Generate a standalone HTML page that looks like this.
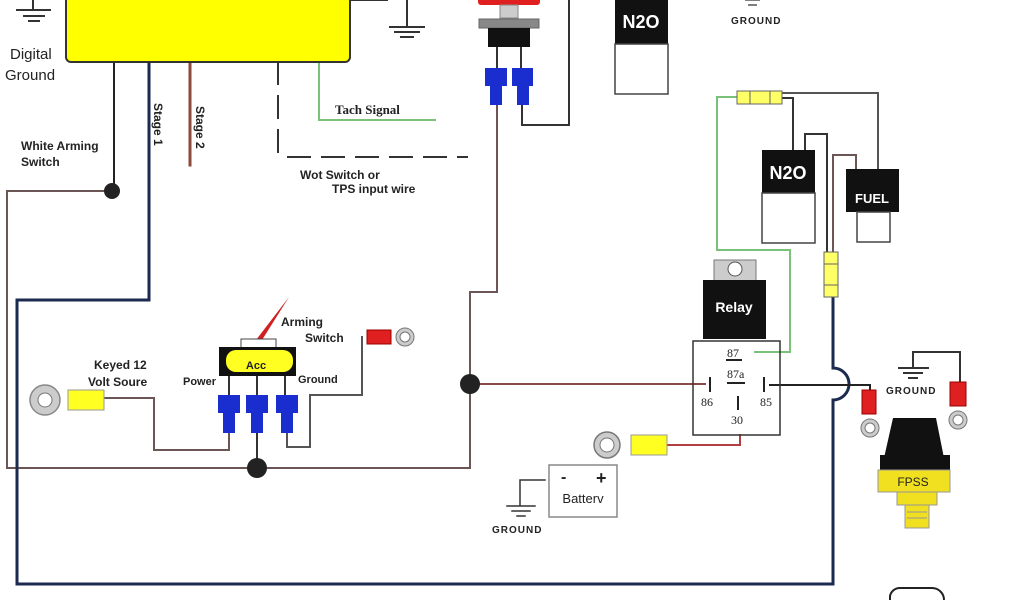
<!DOCTYPE html>
<html><head><meta charset="utf-8"><style>
html,body{margin:0;padding:0;background:#fff;width:1024px;height:600px;overflow:hidden}
svg{display:block}
text{font-family:"Liberation Sans",sans-serif;font-weight:bold;fill:#222}
</style></head><body>
<svg width="1024" height="600" viewBox="0 0 1024 600" xmlns="http://www.w3.org/2000/svg">
<g fill="none" stroke-linecap="square">
<!-- top-left ground -->
<g stroke="#333" stroke-width="2"><path d="M33 0V10M17 10H50M24 16H44M29 21H39"/></g>
<!-- ground right of box -->
<g stroke="#333" stroke-width="2"><path d="M350 0H387M407 0V27M390 27H424M395 32H419M401 37H413"/></g>
<!-- white arming wire -->
<path d="M114 62V191M112 191H7V468H470V292H497V105" stroke="#6b5555" stroke-width="2"/>
<path d="M114 62V191" stroke="#222" stroke-width="2"/>
<!-- navy loop -->
<path d="M149 62V300H17V584H833V400M833 368V297" stroke="#1c2a50" stroke-width="3"/>
<path d="M833 368A16 16 0 0 1 833 400" stroke="#1c2a50" stroke-width="3"/>
<!-- stage 2 -->
<path d="M190 62V165" stroke="#8b4a3a" stroke-width="3"/>
<!-- dashed -->
<path d="M278 62V155M288 157H467" stroke="#333" stroke-width="2" stroke-dasharray="22,12"/>
<!-- tach -->
<path d="M319 62V120H435" stroke="#7ac27a" stroke-width="2"/>
<!-- button wires -->
<path d="M497 47V70M521 47V70" stroke="#333" stroke-width="2"/>
<path d="M522 105V125H569V0" stroke="#333" stroke-width="2"/>
<!-- keyed wire -->
<path d="M104 398H154V450H229V430" stroke="#6b5555" stroke-width="2"/>
<path d="M257 430V468" stroke="#333" stroke-width="2"/>
<path d="M287 430V447H310V395H362V337" stroke="#555" stroke-width="2"/>
<path d="M229 376V397M257 376V397M285 376V397" stroke="#333" stroke-width="2"/>
<!-- to relay 86 -->
<path d="M470 384H705" stroke="#8b4a4a" stroke-width="2"/>
<!-- green relay 87 -->
<path d="M737 97H717V250H790V352H755" stroke="#7ac27a" stroke-width="2"/>
<!-- fuse wires -->
<path d="M782 93H878V170" stroke="#555" stroke-width="2"/>
<path d="M782 98H793V150" stroke="#333" stroke-width="2"/>
<path d="M805 150V134H827V252" stroke="#333" stroke-width="2"/>
<path d="M833 252V155H856V169" stroke="#6b5555" stroke-width="2"/>
<!-- 85 wire -->
<path d="M770 385H870V392" stroke="#222" stroke-width="2"/>
<!-- 30 wire -->
<path d="M667 445H740V435" stroke="#b04040" stroke-width="2"/>
<!-- battery ground -->
<g stroke="#333" stroke-width="1.5"><path d="M545 480H520V506M507 506H535M512 511H530M517 516H525"/></g>
<!-- right ground -->
<g stroke="#333" stroke-width="2"><path d="M913 367V352H960V382M899 368H928M904 373H922M909 378H917"/></g>
</g>

<!-- yellow box -->
<rect x="66" y="-12" width="284" height="74" rx="5" fill="#ffff00" stroke="#333" stroke-width="2"/>

<!-- dots -->
<circle cx="112" cy="191" r="8" fill="#222"/>
<circle cx="470" cy="384" r="10" fill="#222"/>
<circle cx="257" cy="468" r="10" fill="#222"/>

<!-- red button -->
<rect x="478" y="-4" width="62" height="9" rx="3" fill="#e02020"/>
<rect x="500" y="5" width="18" height="13" fill="#ccc" stroke="#888"/>
<rect x="479" y="19" width="60" height="9" fill="#888" stroke="#666"/>
<rect x="488" y="28" width="42" height="19" fill="#111"/>
<g fill="#1a2ed0"><rect x="485" y="68" width="22" height="18"/><rect x="490" y="86" width="12" height="19"/><rect x="512" y="68" width="21" height="18"/><rect x="517" y="86" width="12" height="19"/></g>

<!-- N2O top -->
<rect x="615" y="-2" width="53" height="46" fill="#111"/>
<rect x="615" y="44" width="53" height="50" fill="#fff" stroke="#444" stroke-width="1.5"/>
<text x="641" y="28" font-size="18" text-anchor="middle" style="fill:#fff">N2O</text>
<g stroke="#555" stroke-width="1.5"><path d="M745 0H760M748 5H757"/></g>
<text x="731" y="24" font-size="10" style="letter-spacing:1px">GROUND</text>

<!-- fuse top -->
<rect x="737" y="91" width="45" height="13" fill="#ffff66" stroke="#666"/>
<path d="M750 91V104M770 91V104" stroke="#666"/>
<!-- N2O mid -->
<rect x="762" y="150" width="53" height="43" fill="#111"/>
<rect x="762" y="193" width="53" height="50" fill="#fff" stroke="#444" stroke-width="1.5"/>
<text x="788" y="179" font-size="18" text-anchor="middle" style="fill:#fff">N2O</text>
<!-- FUEL -->
<rect x="846" y="169" width="53" height="43" fill="#111"/>
<rect x="857" y="212" width="33" height="30" fill="#fff" stroke="#444" stroke-width="1.5"/>
<text x="872" y="203" font-size="13" text-anchor="middle" style="fill:#fff">FUEL</text>
<!-- fuse vertical -->
<rect x="824" y="252" width="14" height="45" fill="#ffff66" stroke="#666"/>
<path d="M824 264H838M824 285H838" stroke="#666"/>

<!-- relay -->
<rect x="714" y="260" width="42" height="21" fill="#ccc" stroke="#777"/>
<circle cx="735" cy="269" r="7" fill="#fff" stroke="#555"/>
<rect x="703" y="280" width="63" height="59" fill="#111"/>
<text x="734" y="312" font-size="14" text-anchor="middle" style="fill:#fff">Relay</text>
<rect x="693" y="341" width="87" height="94" fill="none" stroke="#333" stroke-width="1.5"/>
<g stroke="#222" stroke-width="2"><path d="M726 360H742M727 383H745M710 377V392M764 377V392M738 396V410"/></g>
<g font-family="Liberation Serif" font-size="12"><text x="727" y="357" style="font-family:'Liberation Serif',serif;font-weight:normal">87</text>
<text x="727" y="378" style="font-family:'Liberation Serif',serif;font-weight:normal">87a</text>
<text x="701" y="406" style="font-family:'Liberation Serif',serif;font-weight:normal">86</text>
<text x="760" y="406" style="font-family:'Liberation Serif',serif;font-weight:normal">85</text>
<text x="731" y="424" style="font-family:'Liberation Serif',serif;font-weight:normal">30</text></g>

<!-- battery ring -->
<circle cx="607" cy="445" r="13" fill="#ccc" stroke="#777" stroke-width="1.5"/>
<circle cx="607" cy="445" r="7" fill="#fff" stroke="#777"/>
<rect x="631" y="435" width="36" height="20" fill="#ffff22" stroke="#999"/>
<rect x="549" y="465" width="68" height="52" fill="#fff" stroke="#888" stroke-width="1.5"/>
<text x="561" y="482" font-size="16">-</text><text x="596" y="484" font-size="18">+</text>
<text x="583" y="503" font-size="13" text-anchor="middle" style="font-weight:normal">Batterv</text>
<text x="492" y="533" font-size="10" style="letter-spacing:1px">GROUND</text>

<!-- FPSS connectors -->
<rect x="862" y="390" width="14" height="24" fill="#e02020" stroke="#900"/>
<circle cx="870" cy="428" r="9" fill="#ccc" stroke="#777"/><circle cx="870" cy="428" r="5" fill="#fff" stroke="#777"/>
<rect x="950" y="382" width="16" height="24" fill="#e02020" stroke="#900"/>
<circle cx="958" cy="420" r="9" fill="#ccc" stroke="#777"/><circle cx="958" cy="420" r="5" fill="#fff" stroke="#777"/>
<text x="886" y="394" font-size="10" style="letter-spacing:1px">GROUND</text>
<polygon points="893,418 936,418 944,458 884,458" fill="#111"/>
<rect x="880" y="455" width="70" height="15" fill="#111"/>
<rect x="878" y="470" width="72" height="22" fill="#f0e020" stroke="#999"/>
<text x="913" y="486" font-size="12" text-anchor="middle" style="font-weight:normal">FPSS</text>
<rect x="897" y="492" width="40" height="13" fill="#f0e020" stroke="#999"/>
<rect x="905" y="505" width="24" height="23" fill="#f0e020" stroke="#999"/>
<path d="M907 512H927M907 518H927" stroke="#999"/>
<path d="M890 600V596A10 10 0 0 1 900 588H932A12 12 0 0 1 944 600" fill="none" stroke="#222" stroke-width="2"/>

<!-- switch -->
<polygon points="256,340 262,340 289,297" fill="#d02020"/>
<rect x="241" y="339" width="35" height="9" fill="#fff" stroke="#444"/>
<rect x="219" y="347" width="77" height="29" fill="#111"/>
<rect x="226" y="350" width="67" height="22" rx="10" fill="#ffff22"/>
<text x="256" y="369" font-size="11" text-anchor="middle">Acc</text>
<g fill="#1a2ed0"><rect x="218" y="395" width="22" height="18"/><rect x="223" y="413" width="12" height="20"/><rect x="246" y="395" width="22" height="18"/><rect x="251" y="413" width="12" height="20"/><rect x="276" y="395" width="22" height="18"/><rect x="281" y="413" width="12" height="20"/></g>
<!-- keyed ring -->
<circle cx="45" cy="400" r="15" fill="#ccc" stroke="#888" stroke-width="1.5"/>
<circle cx="45" cy="400" r="7" fill="#fff" stroke="#777"/>
<rect x="68" y="390" width="36" height="20" fill="#ffff22" stroke="#999"/>
<!-- arming ring -->
<rect x="367" y="330" width="24" height="14" fill="#e02020" stroke="#900"/>
<circle cx="405" cy="337" r="9" fill="#ccc" stroke="#777"/><circle cx="405" cy="337" r="5" fill="#fff" stroke="#777"/>

<!-- labels -->
<text x="10" y="59" font-size="15" style="font-weight:normal">Digital</text>
<text x="5" y="80" font-size="15" style="font-weight:normal">Ground</text>
<text x="21" y="150" font-size="12">White Arming</text>
<text x="21" y="166" font-size="12">Switch</text>
<text transform="translate(154,103) rotate(90)" font-size="12">Stage 1</text>
<text transform="translate(196,106) rotate(90)" font-size="12">Stage 2</text>
<text x="335" y="114" font-size="13" style="font-family:'Liberation Serif',serif">Tach Signal</text>
<text x="300" y="179" font-size="12">Wot Switch or</text>
<text x="332" y="193" font-size="12">TPS input wire</text>
<text x="94" y="369" font-size="12">Keyed 12</text>
<text x="88" y="386" font-size="12">Volt Soure</text>
<text x="183" y="385" font-size="11">Power</text>
<text x="298" y="383" font-size="11">Ground</text>
<text x="281" y="326" font-size="12">Arming</text>
<text x="305" y="342" font-size="12">Switch</text>
</svg>
</body></html>
